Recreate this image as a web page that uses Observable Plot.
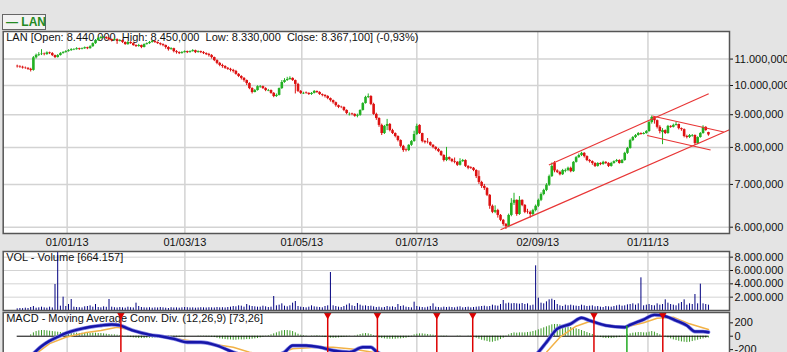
<!DOCTYPE html>
<html><head><meta charset="utf-8">
<script src="https://cdn.jsdelivr.net/npm/d3@7"></script>
<script src="https://cdn.jsdelivr.net/npm/@observablehq/plot@0.6"></script>
<style>
html,body{margin:0;padding:0;background:#e4e4e4;width:787px;height:352px;overflow:hidden;font-family:"Liberation Sans",Arial,sans-serif;}
#wrap{position:relative;width:787px;height:352px;overflow:hidden;}
#wrap svg{position:absolute;left:0;overflow:visible;}
#legend{position:absolute;left:2px;top:14px;width:39px;height:14px;border:1px solid #666;background:#f2f2f2;color:#238a23;font-weight:bold;font-size:12px;line-height:14px;padding-left:3px;box-sizing:content-box;white-space:nowrap;}
</style></head>
<body><div id="wrap"><div id="legend">— LAN</div></div>
<script>
// ---------- data (prices in CLP, volume in thousands) ----------
const open = [
10720,10700,10680,10650,10640,10600,10560,11050,11150,11180,
11200,11180,11250,11220,11140,11060,11140,11220,11260,11300,
11340,11360,11380,11420,11390,11420,11460,11420,11500,11630,
11760,11850,11870,11890,11850,11800,11760,11800,11720,11760,
11680,11590,11680,11630,11550,11510,11550,11470,11590,11630,
11680,11720,11680,11630,11590,11550,11470,11380,11420,11300,
11260,11220,11260,11300,11260,11300,11340,11260,11300,11260,
11220,11180,11140,11060,10940,10830,10750,10710,10640,10600,
10560,10520,10410,10330,10260,10180,10070,9890,9750,9820,
9940,9960,9890,9800,9820,9720,9610,9650,9890,10110,
10180,10220,10260,10180,10040,9790,9700,9740,9720,9680,
9720,9790,9750,9680,9650,9610,9540,9470,9400,9300,
9250,9240,9140,9000,9030,9010,8950,8980,9140,9370,
9580,9610,9340,9010,8880,8660,8410,8630,8690,8500,
8410,8320,8200,8030,7930,7910,8060,8170,8380,8660,
8410,8170,8150,8140,8060,8000,7940,7880,7770,7630,
7710,7660,7600,7580,7500,7600,7630,7470,7440,7420,
7360,7200,7050,6950,6900,6730,6470,6330,6370,6260,
6150,6060,6010,6260,6540,6610,6280,6610,6490,6340,
6330,6280,6370,6470,6610,6750,6850,6980,7200,7560,
7350,7310,7250,7340,7360,7420,7330,7580,7710,7770,
7830,7740,7630,7600,7550,7470,7550,7520,7580,7550,
7470,7550,7600,7630,7550,7630,7830,7970,8200,8290,
8350,8410,8380,8410,8470,8750,8910,8810,8600,8440,
8500,8410,8630,8600,8660,8690,8560,8530,8320,8290,
8330,8350,8110,8290,8410,8600,8440];
const high = [
10760,10740,10720,10690,10660,10640,11100,11200,11260,11380,
11240,11290,11280,11260,11160,11180,11260,11300,11340,11380,
11420,11420,11460,11440,11450,11490,11480,11540,11660,11800,
11900,11940,11930,11920,11880,11820,11850,11830,11800,11790,
11700,11720,11710,11660,11580,11600,11570,11620,11660,11720,
11760,11750,11700,11660,11620,11570,11500,11460,11440,11340,
11290,11300,11330,11320,11330,11380,11360,11330,11320,11300,
11250,11230,11180,11080,10970,10870,10800,10740,10670,10640,
10600,10560,10440,10360,10290,10200,10100,9920,9860,9990,
10000,9980,9920,9860,9840,9750,9700,9910,10180,10250,
10300,10320,10280,10200,10080,9820,9760,9770,9740,9750,
9820,9800,9780,9700,9670,9640,9560,9490,9420,9320,
9280,9260,9160,9060,9050,9030,9020,9160,9400,9620,
9700,9640,9380,9050,8900,8700,8660,8850,8720,8540,
8430,8340,8220,8060,7960,8080,8200,8480,8700,8680,
8420,8200,8260,8160,8080,8020,7970,7900,7790,8000,
7730,7680,7700,7600,7680,7660,7650,7490,7460,7440,
7380,7350,7080,7000,6920,6750,6500,6480,6400,6280,
6170,6080,6290,6650,6780,6620,6700,6620,6510,6400,
6360,6400,6500,6640,6790,6880,7020,7240,7560,7600,
7380,7340,7390,7400,7450,7450,7600,7740,7810,7860,
7850,7760,7660,7620,7570,7570,7570,7610,7600,7570,
7580,7620,7660,7650,7660,7860,8000,8240,8320,8380,
8440,8430,8440,8500,8800,8960,8930,8830,8650,8560,
8520,8660,8650,8700,8760,8700,8580,8550,8360,8380,
8380,8370,8310,8440,8650,8620,8450];
const low = [
10650,10640,10610,10600,10560,10500,10530,11000,11100,11140,
11130,11150,11180,11100,11020,11040,11120,11200,11240,11280,
11310,11340,11360,11350,11370,11390,11380,11400,11480,11600,
11720,11820,11850,11800,11740,11700,11740,11600,11700,11640,
11560,11560,11600,11520,11470,11480,11420,11450,11570,11600,
11650,11640,11600,11540,11500,11400,11320,11360,11250,11200,
11180,11200,11240,11220,11240,11280,11220,11240,11220,11180,
11140,11080,11000,10900,10780,10700,10640,10600,10560,10500,
10460,10380,10290,10200,10120,10000,9850,9700,9740,9800,
9900,9860,9780,9780,9690,9570,9580,9630,9860,10080,
10150,10190,10150,9700,9750,9680,9680,9690,9650,9650,
9700,9720,9650,9600,9560,9500,9420,9350,9250,9200,
9200,9100,9000,8960,8970,8920,8900,8950,9120,9350,
9540,9300,8980,8820,8600,8350,8380,8500,8460,8380,
8280,8160,7990,7860,7870,7880,8030,8150,8350,8380,
8130,8100,8100,8030,7960,7900,7850,7740,7590,7600,
7620,7570,7540,7470,7480,7580,7440,7380,7390,7330,
7150,7000,6900,6850,6700,6400,6300,6300,6200,6120,
6020,5950,6000,6230,6490,6240,6260,6460,6300,6290,
6200,6250,6340,6440,6580,6720,6820,6950,7180,7300,
7280,7220,7230,7300,7330,7300,7310,7560,7690,7740,
7700,7600,7560,7500,7440,7450,7490,7500,7520,7440,
7450,7530,7580,7530,7540,7610,7800,7950,8170,8260,
8330,8360,8370,8390,8450,8700,8700,8550,8400,8080,
8380,8390,8570,8580,8640,8520,8480,8280,8250,8260,
8300,8060,8080,8270,8390,8480,8330];
const close = [
10700,10680,10650,10640,10600,10560,11050,11150,11180,11200,
11180,11250,11220,11140,11060,11140,11220,11260,11300,11340,
11380,11380,11420,11390,11420,11460,11420,11500,11630,11760,
11850,11890,11890,11850,11800,11760,11800,11720,11760,11680,
11590,11680,11630,11550,11510,11550,11470,11590,11630,11680,
11720,11680,11630,11590,11550,11470,11380,11420,11300,11260,
11220,11260,11300,11260,11300,11340,11260,11300,11260,11220,
11180,11140,11060,10940,10830,10750,10710,10640,10600,10560,
10520,10410,10330,10260,10180,10070,9890,9750,9820,9960,
9960,9890,9820,9820,9720,9610,9650,9890,10110,10180,
10220,10260,10180,10040,9790,9720,9720,9720,9680,9720,
9790,9750,9680,9650,9610,9540,9470,9400,9300,9240,
9240,9140,9040,9010,9010,8950,8980,9140,9370,9580,
9610,9340,9010,8880,8660,8410,8630,8690,8500,8410,
8320,8200,8030,7910,7910,8060,8170,8380,8630,8410,
8170,8140,8140,8060,8000,7940,7880,7770,7630,7710,
7660,7600,7580,7500,7600,7630,7470,7420,7420,7360,
7200,7050,6950,6900,6730,6470,6330,6370,6260,6150,
6060,6010,6260,6540,6610,6280,6610,6490,6330,6330,
6280,6370,6470,6610,6750,6850,6980,7200,7470,7350,
7310,7250,7360,7360,7420,7330,7580,7710,7770,7830,
7740,7630,7600,7550,7470,7550,7520,7580,7550,7470,
7550,7600,7630,7550,7630,7830,7970,8200,8290,8350,
8410,8380,8410,8470,8750,8910,8810,8600,8470,8500,
8410,8630,8600,8660,8690,8560,8530,8320,8290,8350,
8350,8110,8290,8410,8600,8500,8367.1];
const volume = [
250,300,280,350,300,450,600,350,400,500,
400,350,500,380,3900,9200,650,2000,600,900,
1650,500,450,420,380,550,600,700,500,900,
450,400,550,480,1650,500,420,380,450,400,
350,500,420,380,1100,600,450,400,380,420,
350,400,380,450,400,350,300,420,380,400,
350,400,450,420,380,400,350,380,420,400,
380,420,400,380,450,400,420,380,450,500,
600,550,700,650,500,900,700,600,550,500,
500,650,550,450,500,2100,700,800,1000,650,
550,700,1100,1350,600,500,450,400,500,700,
550,500,450,400,600,700,5700,700,600,500,
450,600,800,1000,700,600,1050,800,650,700,
600,650,550,450,500,400,450,600,500,550,
450,900,600,700,500,450,400,1250,600,500,
450,400,500,600,1000,500,450,400,500,450,
500,450,400,500,550,400,450,500,400,450,
500,550,600,650,550,600,800,700,650,900,
1500,1000,1100,1000,1050,1000,950,1050,900,1000,
700,800,6700,1850,1100,1000,1300,1600,1700,1500,
900,700,600,800,700,800,700,650,600,800,
700,600,650,700,550,600,500,450,600,550,
500,600,700,800,650,700,850,900,1000,800,
1000,4900,700,800,900,750,700,1000,800,900,
1600,1100,900,800,700,1000,1200,1600,800,1000,
900,2400,1000,3950,1000,900,800];
const macdHist = [
0,0,0,0,0,
20,50,70,80,85,85,80,75,70,65,60,55,50,50,45,45,
45,45,40,45,40,40,40,45,45,40,40,35,30,25,20,20,15,10,5,0,
-10,-20,-25,-30,-35,-35,-35,-30,-30,-30,-25,-25,-25,-20,-20,-20,-15,-15,-10,-10,-5,
-5,0,0,0,0,-5,-5,-5,-10,-10,-15,
-20,-30,-40,-45,-50,-55,-55,-60,-60,-55,-55,-55,-50,-50,-45,-40,-35,-25,-15,-5,
10,20,35,50,65,80,85,85,80,70,50,30,
15,10,5,0,5,5,10,5,
-10,-20,-25,-30,-30,-30,-25,-20,-15,-10,
-5,0,5,15,25,35,40,35,25,10,
-10,-25,-35,-40,-45,-45,-45,-45,-40,-40,-35,-30,-20,-10,
20,30,35,35,30,25,20,15,10,
0,-5,-10,-5,0,
0,0,5,5,0,0,-5,-10,-20,-30,
-45,-60,-70,-80,-90,-90,-80,-70,
-50,-30,-10,20,40,50,
45,50,50,50,55,60,70,80,95,110,125,140,155,170,175,175,170,
160,150,140,130,120,110,100,85,70,55,40,25,10,
-10,-20,-30,-35,-35,-35,-30,-25,-20,-10,
5,20,35,45,50,55,55,50,50,60,70,60,40,
20,0,-10,-25,-40,-55,-65,-75,-85,-90,-95,-90,-80,-70,-60,-50,-40,-30,-25];
const macdIdx = [5,9,12,15,18,22,25,28,31,35,38,41,43,46,49,53,58,63,68,74,80,85,90,95,99,102,107,112,117,123,128,131,133,138,145,155,165,175,185,190,193,196,200,205,209,212,218,225,227,232,236,240,244,248,251,254,256];
const macdVal = [-300,-150,-70,-10,45,95,122,145,160,175,162,115,85,50,22,0,-39,-90,-90,-139,-239,-300,-320,-290,-239,-139,-139,-164,-213,-239,-164,-164,-228,-320,-380,-360,-380,-550,-500,-350,-239,-90,110,185,275,234,160,134,170,249,319,298,234,160,70,70,60];
const signalIdx = [5,7,12,18,25,31,37,43,49,55,62,68,74,80,86,92,97,102,111,117,124,130,137,145,155,165,175,185,192,196,201,207,212,218,225,232,237,243,249,256];
const signalVal = [-380,-260,-110,-15,50,85,134,85,35,-15,-55,-90,-128,-164,-239,-280,-260,-188,-164,-164,-190,-228,-280,-340,-360,-370,-450,-480,-380,-239,-15,149,219,170,134,200,269,284,185,100];
const sellSignals = [38.4,115,133.4,155.4,168.7,213.6,239.1];
const buySignals = [{i:225.8, v:150}];
// trend lines drawn on the price chart: [index1, price1, index2, price2]
const trendLines = [
  {i1:179.0, p1:5944, i2:263.8, p2:8524},
  {i1:196.9, p1:7508, i2:256.1, p2:9705},
  {i1:235.2, p1:8959, i2:261.7, p2:8457},
  {i1:233.3, p1:8351, i2:256.8, p2:7925}
];
const dateTickIdx = [18.5, 62.1, 105.4, 148, 192.8, 233.6];
const dateTickLabels = ["01/01/13","01/03/13","01/05/13","01/07/13","02/09/13","01/11/13"];
const priceTicks = [6000,7000,8000,9000,10000,11000];
const volTicks = [2000,4000,6000,8000];
const macdTicks = [-200,0,200];
const titleText = "LAN [Open: 8.440,000\u00a0 High: 8.450,000\u00a0 Low: 8.330,000\u00a0 Close: 8.367,100] (-0,93%)";
const volTitle = "VOL - Volume [664.157]";
const macdTitle = "MACD - Moving Average Conv. Div. (12,26,9) [73,26]";

// ---------- build ----------
const candles = close.map((c,i)=>({i, o:open[i], h:high[i], l:low[i], c}));
const vols = volume.map((v,i)=>({i, v}));
const hist = macdHist.map((h,i)=>({i, h}));
const macdLine = macdIdx.map((i,k)=>({i, v:macdVal[k]}));
const sigLine = signalIdx.map((i,k)=>({i, v:signalVal[k]}));

const W = 787, ML = 2.7, MR = 58;
const xDomain = [-5.185, 263.8];
const UP = "#22b022", DN = "#dd1111", GRID = "#d3d3d3", BORDER = "#555";
const col = d => d.c >= d.o ? UP : DN;
const font = {background:"transparent", fontFamily:"'Liberation Sans', Arial, sans-serif", fontSize:"11px", color:"#111", overflow:"visible"};
const fmtPrice = n => `${Math.floor(n/1000)}.${String(n%1000).padStart(3,"0")},000`;
const fmtVol = n => `${n/1000}.000.000`;
const downTri = {draw(ctx, size){ const r = Math.sqrt(size/Math.PI); ctx.moveTo(-r,-r*0.9); ctx.lineTo(r,-r*0.9); ctx.lineTo(0,r*0.9); ctx.closePath(); }};
const label = (t) => Plot.text([t], {text:d=>d, frameAnchor:"top-left", textAnchor:"start", lineAnchor:"top", dx:3, dy:1.5, fill:"#111", fontSize:11});

const main = Plot.plot({
  width:W, height:250, marginLeft:ML, marginRight:MR, marginTop:31, marginBottom:17,
  style:font,
  x:{domain:xDomain, ticks:dateTickIdx, tickFormat:d=>dateTickLabels[dateTickIdx.indexOf(d)], tickSize:0, tickPadding:5, label:null},
  y:{type:"log", domain:[5865,12150], ticks:priceTicks, tickFormat:fmtPrice, axis:"right", tickSize:3, tickPadding:2, label:null},
  marks:[
    Plot.frame({fill:"white"}),
    Plot.ruleX(dateTickIdx, {stroke:GRID, strokeWidth:1.5}),
    Plot.ruleY(priceTicks, {stroke:GRID, strokeWidth:1.5}),
    label(titleText),
    Plot.ruleX(candles, {x:"i", y1:"l", y2:"h", stroke:col, strokeWidth:1}),
    Plot.ruleX(candles, {x:"i", y1:"o", y2:"c", stroke:col, strokeWidth:2.6}),
    Plot.link(trendLines, {x1:"i1", y1:"p1", x2:"i2", y2:"p2", stroke:"#e83535", strokeWidth:1.2}),
    Plot.frame({stroke:BORDER, strokeWidth:1.5})
  ]
});
main.style.top = "0px";

const vol = Plot.plot({
  width:W, height:63, marginLeft:ML, marginRight:MR, marginTop:2, marginBottom:2,
  style:font,
  x:{domain:xDomain, axis:null},
  y:{domain:[0,8850], ticks:volTicks, tickFormat:fmtVol, axis:"right", tickSize:3, tickPadding:2, label:null},
  marks:[
    Plot.frame({fill:"white"}),
    Plot.ruleX(dateTickIdx, {stroke:GRID, strokeWidth:1.5}),
    Plot.ruleY(volTicks, {stroke:GRID, strokeWidth:1}),
    label(volTitle),
    Plot.ruleX(vols, {x:"i", y1:0, y2:"v", stroke:"#000080", strokeWidth:1, clip:true}),
    Plot.frame({stroke:BORDER, strokeWidth:1.5})
  ]
});
vol.style.top = "249px";

const macd = Plot.plot({
  width:W, height:110, marginLeft:ML, marginRight:MR, marginTop:2, marginBottom:0,
  style:font,
  x:{domain:xDomain, axis:null},
  y:{domain:[-1258,354], ticks:macdTicks, tickFormat:d=>String(d), axis:"right", tickSize:3, tickPadding:2, label:null},
  marks:[
    Plot.frame({fill:"white"}),
    Plot.ruleX(dateTickIdx, {stroke:GRID, strokeWidth:1.5}),
    label(macdTitle),
    Plot.ruleX(hist, {x:"i", y1:0, y2:"h", stroke:"#3c9a28", strokeWidth:1}),
    Plot.ruleY([0], {x1:0, x2:close.length-1, stroke:"#000", strokeWidth:1}),
    Plot.line(sigLine, {x:"i", y:"v", stroke:"#f2b247", strokeWidth:1.5}),
    Plot.line(macdLine, {x:"i", y:"v", stroke:"#8585e6", strokeWidth:3.8, curve:"monotone-x"}),
    Plot.line(macdLine, {x:"i", y:"v", stroke:"#1616a8", strokeWidth:2.4, curve:"monotone-x"}),
    Plot.ruleX(sellSignals, {stroke:"#dd0000", strokeWidth:1.5}),
    Plot.ruleX(buySignals, {x:"i", y1:"v", y2:-1258, stroke:"#22aa22", strokeWidth:1.5}),
    Plot.dot(sellSignals, {x:d=>d, y:d=>302, symbol:downTri, r:4, fill:"#dd0000", stroke:"none"}),
    Plot.frame({stroke:BORDER, strokeWidth:1.5})
  ]
});
macd.style.top = "310px";

const wrap = document.getElementById("wrap");
wrap.appendChild(main); wrap.appendChild(vol); wrap.appendChild(macd);
</script>
</body></html>
